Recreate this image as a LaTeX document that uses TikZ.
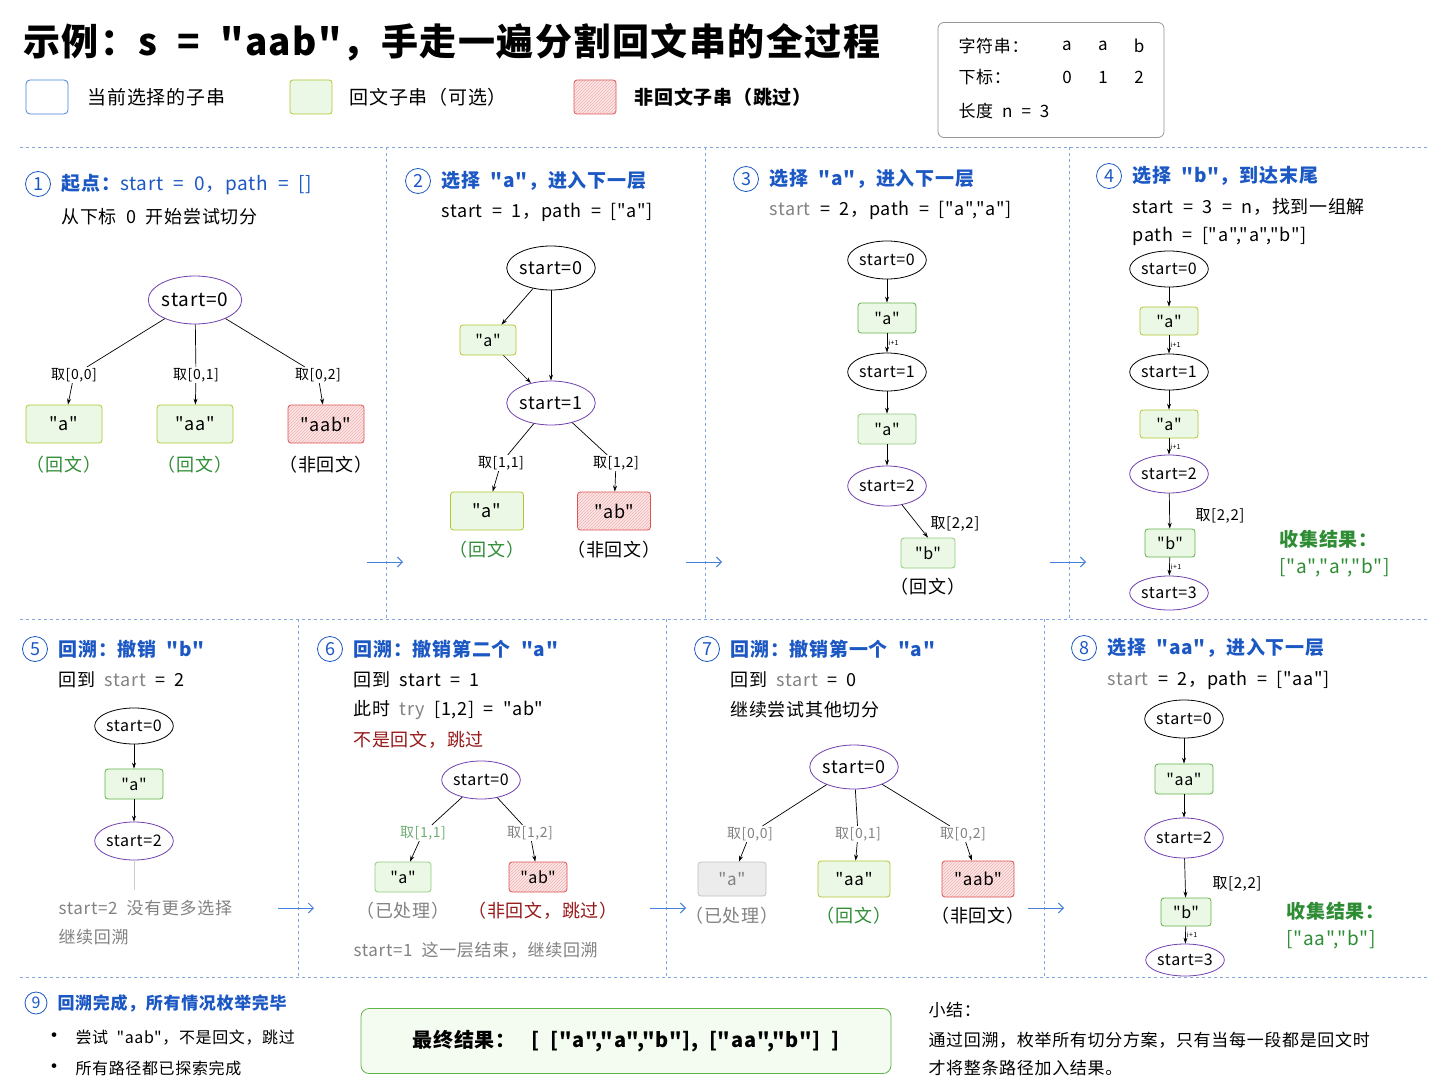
\documentclass[tikz,border=0pt]{standalone}
\usepackage{fontspec}
\setmainfont{Noto Sans CJK SC}[Ligatures=TeXOff,WordSpace=2,LetterSpace=4]
\usetikzlibrary{shapes.geometric,arrows.meta,patterns,positioning}
\definecolor{stepblue}{RGB}{28,88,196}
\definecolor{linkblue}{RGB}{70,130,220}
\definecolor{grape}{RGB}{112,64,176}
\definecolor{leaf}{RGB}{96,180,72}
\definecolor{leaffill}{RGB}{236,248,230}
\definecolor{lime}{RGB}{176,200,48}
\definecolor{coral}{RGB}{222,84,84}
\definecolor{coralfill}{RGB}{253,232,232}
\definecolor{forest}{RGB}{46,140,52}
\definecolor{maroon}{RGB}{150,24,24}
\definecolor{ash}{RGB}{130,130,130}
\definecolor{ashfill}{RGB}{236,236,236}
\definecolor{frame}{RGB}{150,150,150}
\definecolor{divider}{RGB}{130,165,220}
\newcommand{\fsz}[1]{\fontsize{#1}{#1}\selectfont}
\tikzset{state/.style={ellipse,draw=grape,thick,fill=white,inner sep=0pt,font=\fsz{16}}}
\tikzset{palbox/.style={rectangle,rounded corners=3pt,draw=leaf,thick,fill=leaffill,inner sep=0pt,font=\fsz{16}}}
\tikzset{limebox/.style={palbox,draw=lime}}
\tikzset{nonpalbox/.style={rectangle,rounded corners=3pt,draw=coral,thick,preaction={fill=coralfill},pattern=north east lines,pattern color=coral!45,inner sep=0pt,font=\fsz{16}}}
\tikzset{donebox/.style={palbox,draw=ash!50,fill=ashfill,text=ash}}
\tikzset{cut/.style={font=\fsz{14},fill=white,inner sep=1pt}}
\tikzset{tiny/.style={font=\fsz{7},inner sep=1pt}}
\tikzset{link/.style={-{Stealth[length=6pt,width=4pt]},line width=0.7pt}}
\tikzset{stepnum/.style={circle,draw=stepblue,thick,text=stepblue,inner sep=0pt,minimum size=25pt,font=\fsz{18}}}
\tikzset{steptitle/.style={anchor=west,text=stepblue,font=\bfseries\fsz{19}}}
\tikzset{note/.style={anchor=west,font=\fsz{18}}}
\tikzset{sep/.style={divider,dashed,line width=0.7pt}}
\tikzset{hop/.style={-{Straight Barb[length=5pt]},linkblue,line width=1pt}}
\begin{document}
\begin{tikzpicture}[x=1pt,y=-1pt]
\useasboundingbox[fill=white] (0,0) rectangle (1448,1086);
% header
\node[anchor=west,font=\bfseries\fsz{37}] (title) at (20,42) {示例：s = "aab"，手走一遍分割回文串的全过程};
\node[draw=linkblue,thick,rounded corners=4pt,minimum width=42pt,minimum height=34pt] (lgcur) at (47,97) {};
\node[anchor=west,font=\fsz{19}] (lgcurt) at (84,97) {当前选择的子串};
\node[limebox,minimum width=42pt,minimum height=34pt] (lgpal) at (311,97) {};
\node[anchor=west,font=\fsz{19}] (lgpalt) at (346,97) {回文子串（可选）};
\node[nonpalbox,minimum width=42pt,minimum height=34pt] (lgnon) at (595,97) {};
\node[anchor=west,font=\bfseries\fsz{19}] (lgnont) at (631,97) {非回文子串（跳过）};
\node[draw=frame,thick,rounded corners=6pt,minimum width=226pt,minimum height=115pt] (info) at (1051,80) {};
\node[anchor=west,font=\fsz{17}] (infos) at (955,46) {字符串：};
\node[anchor=west,font=\fsz{17}] (infoi) at (955,77) {下标：};
\node[anchor=west,font=\fsz{17}] (infon) at (955,111) {长度 n = 3};
\foreach \c/\d [count=\k] in {a/0,a/1,b/2} {
  \node[font=\fsz{17}] (chr\k) at (1031+36*\k,46) {\c};
  \node[font=\fsz{17}] (idx\k) at (1031+36*\k,77) {\d};
}
% dividers
\draw[sep] (20,147) -- (1428,147);
\draw[sep] (20,619) -- (1428,619);
\draw[sep] (20,977) -- (1428,977);
\foreach \x in {386,705,1069} \draw[sep] (\x,147) -- (\x,619);
\foreach \x in {298,666,1044} \draw[sep] (\x,619) -- (\x,977);
\foreach \x/\y [count=\k] in {367/562,686/562,1050/562,278/908,650/908,1028/908} {
  \coordinate (hop\k) at (\x,\y);
  \draw[hop] (hop\k) -- ++(36,0);
}
% step 1
\node[stepnum] (n1) at (38,184) {1};
\node[steptitle] (t1) at (58,185) {起点：\mdseries start = 0，path = []};
\node[note] (d1) at (58,217) {从下标 0 开始尝试切分};
\node[state,minimum width=92pt,minimum height=48pt,font=\fsz{19}] (p1s0) at (195,300) {start=0};
\node[limebox,minimum width=76pt,minimum height=38pt,font=\fsz{18}] (p1a) at (64,424) {"a"};
\node[limebox,minimum width=76pt,minimum height=38pt,font=\fsz{18}] (p1aa) at (195,424) {"aa"};
\node[nonpalbox,minimum width=76pt,minimum height=38pt,font=\fsz{18}] (p1aab) at (326,424) {"aab"};
\node[cut] (p1c1) at (74,375) {取[0,0]};
\node[cut] (p1c2) at (196,375) {取[0,1]};
\node[cut] (p1c3) at (318,375) {取[0,2]};
\foreach \c/\b in {p1c1/p1a,p1c2/p1aa,p1c3/p1aab} {
  \draw[line width=0.7pt] (p1s0) -- (\c);
  \draw[link] (\c) -- (\b);
}
\node[text=forest,font=\fsz{18}] (p1la) at (64,465) {（回文）};
\node[text=forest,font=\fsz{18}] (p1laa) at (195,465) {（回文）};
\node[font=\fsz{18}] (p1laab) at (326,465) {（非回文）};
% step 2
\node[stepnum] (n2) at (418,181) {2};
\node[steptitle] (t2) at (438,181) {选择 "a"，进入下一层};
\node[note] (d2) at (438,212) {start = 1，path = ["a"]};
\node[state,draw=black,minimum width=80pt,minimum height=44pt,font=\fsz{18}] (p2s0) at (551,268) {start=0};
\node[limebox,minimum width=56pt,minimum height=30pt] (p2a) at (488,340) {"a"};
\node[state,minimum width=88pt,minimum height=44pt,font=\fsz{18}] (p2s1) at (551,403) {start=1};
\draw[link] (p2s0) -- (p2a);
\draw[link] (p2a) -- (p2s1);
\draw[link] (p2s0) -- (p2s1);
\node[limebox,minimum width=73pt,minimum height=38pt,font=\fsz{18}] (p2a2) at (487,511) {"a"};
\node[nonpalbox,minimum width=73pt,minimum height=38pt,font=\fsz{18}] (p2ab) at (614,511) {"ab"};
\node[cut] (p2c1) at (501,463) {取[1,1]};
\node[cut] (p2c2) at (616,463) {取[1,2]};
\foreach \c/\b in {p2c1/p2a2,p2c2/p2ab} {
  \draw[line width=0.7pt] (p2s1) -- (\c);
  \draw[link] (\c) -- (\b);
}
\node[text=forest,font=\fsz{18}] (p2la) at (487,550) {（回文）};
\node[font=\fsz{18}] (p2lab) at (614,550) {（非回文）};
% step 3
\node[stepnum] (n3) at (746,179) {3};
\node[steptitle] (t3) at (766,179) {选择 "a"，进入下一层};
\node[note] (d3) at (766,210) {{\color{ash}start} = 2，path = ["a","a"]};
\node[state,draw=black,minimum width=66pt,minimum height=38pt] (p3s0) at (887,260) {start=0};
\node[palbox,minimum width=58pt,minimum height=30pt] (p3a) at (887,318) {"a"};
\node[state,draw=black,minimum width=68pt,minimum height=38pt] (p3s1) at (887,372) {start=1};
\node[palbox,draw=leaf!70,minimum width=58pt,minimum height=30pt] (p3a2) at (887,429) {"a"};
\node[state,minimum width=74pt,minimum height=40pt] (p3s2) at (887,486) {start=2};
\node[palbox,draw=leaf!70,minimum width=54pt,minimum height=30pt] (p3b) at (928,553) {"b"};
\draw[link] (p3s0) -- (p3a);
\draw[link] (p3a) -- node[tiny,right]{i+1} (p3s1);
\draw[link] (p3s1) -- (p3a2);
\draw[link] (p3a2) -- (p3s2);
\draw[link] (p3s2) -- (p3b.north);
\node[font=\fsz{15}] (p3c) at (955,524) {取[2,2]};
\node[font=\fsz{18}] (p3lb) at (928,587) {（回文）};
% step 4
\node[stepnum] (n4) at (1109,176) {4};
\node[steptitle] (t4) at (1129,176) {选择 "b"，到达末尾};
\node[note] (d4) at (1129,207) {start = 3 = n，找到一组解};
\node[note] (e4) at (1129,236) {path = ["a","a","b"]};
\node[state,draw=black,minimum width=64pt,minimum height=36pt] (p4s0) at (1169,269) {start=0};
\node[limebox,minimum width=58pt,minimum height=28pt] (p4a) at (1169,321) {"a"};
\node[state,draw=black,minimum width=68pt,minimum height=36pt] (p4s1) at (1169,372) {start=1};
\node[limebox,minimum width=58pt,minimum height=28pt] (p4a2) at (1169,424) {"a"};
\node[state,minimum width=72pt,minimum height=38pt] (p4s2) at (1169,474) {start=2};
\node[palbox,minimum width=50pt,minimum height=28pt] (p4b) at (1170,543) {"b"};
\node[state,minimum width=68pt,minimum height=34pt] (p4s3) at (1169,593) {start=3};
\draw[link] (p4s0) -- (p4a);
\draw[link] (p4a) -- node[tiny,right]{i+1} (p4s1);
\draw[link] (p4s1) -- (p4a2);
\draw[link] (p4a2) -- node[tiny,right]{i+1} (p4s2);
\draw[link] (p4s2) -- (p4b);
\draw[link] (p4b) -- node[tiny,right]{i+1} (p4s3);
\node[font=\fsz{15}] (p4c) at (1220,516) {取[2,2]};
\node[anchor=west,text=forest,font=\bfseries\fsz{19}] (r4a) at (1276,539) {收集结果：};
\node[anchor=west,text=forest,font=\fsz{19}] (r4b) at (1276,568) {["a","a","b"]};
% step 5
\node[stepnum] (n5) at (35,649) {5};
\node[steptitle] (t5) at (55,649) {回溯：撤销 "b"};
\node[note] (d5) at (55,680) {回到 {\color{ash}start} = 2};
\node[state,draw=black,minimum width=64pt,minimum height=36pt] (p5s0) at (134,726) {start=0};
\node[palbox,minimum width=58pt,minimum height=30pt] (p5a) at (134,784) {"a"};
\node[state,minimum width=76pt,minimum height=38pt] (p5s2) at (134,841) {start=2};
\coordinate (p5end) at (134,890);
\draw[link] (p5s0) -- (p5a);
\draw[link] (p5a) -- (p5s2);
\draw[ash!40,line width=0.7pt] (p5s2) -- (p5end);
\node[anchor=west,text=ash,font=\fsz{17}] (e5a) at (55,908) {start=2 没有更多选择};
\node[anchor=west,text=ash,font=\fsz{17}] (e5b) at (55,937) {继续回溯};
% step 6
\node[stepnum] (n6) at (330,649) {6};
\node[steptitle] (t6) at (350,649) {回溯：撤销第二个 "a"};
\node[note] (d6) at (350,680) {回到 start = 1};
\node[note] (e6) at (350,710) {此时 {\color{ash}try} [1,2] = "ab"};
\node[note,text=maroon] (f6) at (350,740) {不是回文，跳过};
\node[state,minimum width=68pt,minimum height=38pt] (p6s0) at (481,780) {start=0};
\node[palbox,draw=leaf!70,minimum width=56pt,minimum height=30pt] (p6a) at (403,877) {"a"};
\node[nonpalbox,minimum width=58pt,minimum height=30pt] (p6ab) at (538,877) {"ab"};
\node[cut,text=forest!70] (p6c1) at (423,833) {取[1,1]};
\node[cut,text=ash] (p6c2) at (530,833) {取[1,2]};
\foreach \c/\b in {p6c1/p6a,p6c2/p6ab} {
  \draw[line width=0.7pt] (p6s0) -- (\c);
  \draw[link] (\c) -- (\b);
}
\node[text=ash,font=\fsz{18}] (p6la) at (403,911) {（已处理）};
\node[text=maroon,font=\fsz{18}] (p6lab) at (543,911) {（非回文，跳过）};
\node[anchor=west,text=ash,font=\fsz{17}] (g6) at (350,950) {start=1 这一层结束，继续回溯};
% step 7
\node[stepnum] (n7) at (707,649) {7};
\node[steptitle] (t7) at (727,649) {回溯：撤销第一个 "a"};
\node[note] (d7) at (727,680) {回到 {\color{ash}start} = 0};
\node[note] (e7) at (727,710) {继续尝试其他切分};
\node[state,minimum width=80pt,minimum height=44pt,font=\fsz{18}] (p7s0) at (854,767) {start=0};
\node[donebox,minimum width=68pt,minimum height=34pt,font=\fsz{17}] (p7a) at (732,879) {"a"};
\node[limebox,minimum width=72pt,minimum height=36pt,font=\fsz{17}] (p7aa) at (854,879) {"aa"};
\node[nonpalbox,minimum width=72pt,minimum height=36pt,font=\fsz{17}] (p7aab) at (978,879) {"aab"};
\node[cut,text=ash] (p7c1) at (750,834) {取[0,0]};
\node[cut,text=ash] (p7c2) at (858,834) {取[0,1]};
\node[cut,text=ash] (p7c3) at (963,834) {取[0,2]};
\foreach \c/\b in {p7c1/p7a,p7c2/p7aa,p7c3/p7aab} {
  \draw[line width=0.7pt] (p7s0) -- (\c);
  \draw[link] (\c) -- (\b);
}
\node[text=ash,font=\fsz{18}] (p7la) at (732,916) {（已处理）};
\node[text=forest,font=\fsz{18}] (p7laa) at (854,916) {（回文）};
\node[font=\fsz{18}] (p7laab) at (978,916) {（非回文）};
% step 8
\node[stepnum] (n8) at (1084,648) {8};
\node[steptitle] (t8) at (1104,648) {选择 "aa"，进入下一层};
\node[note] (d8) at (1104,680) {{\color{ash}start} = 2，path = ["aa"]};
\node[state,draw=black,minimum width=68pt,minimum height=38pt] (p8s0) at (1184,719) {start=0};
\node[palbox,minimum width=58pt,minimum height=30pt] (p8aa) at (1184,779) {"aa"};
\node[state,minimum width=78pt,minimum height=40pt] (p8s2) at (1184,838) {start=2};
\node[palbox,minimum width=50pt,minimum height=28pt] (p8b) at (1186,912) {"b"};
\node[state,minimum width=64pt,minimum height=32pt] (p8s3) at (1185,960) {start=3};
\draw[link] (p8s0) -- (p8aa);
\draw[link] (p8aa) -- (p8s2);
\draw[link] (p8s2) -- (p8b);
\draw[link] (p8b) -- node[tiny,right]{i+1} (p8s3);
\node[font=\fsz{15}] (p8c) at (1237,884) {取[2,2]};
\node[anchor=west,text=forest,font=\bfseries\fsz{19}] (r8a) at (1283,911) {收集结果：};
\node[anchor=west,text=forest,font=\fsz{19}] (r8b) at (1283,940) {["aa","b"]};
% step 9 and summary
\node[stepnum,minimum size=22pt,font=\fsz{16}] (n9) at (36,1003) {9};
\node[steptitle,font=\bfseries\fsz{17}] (t9) at (54,1003) {回溯完成，所有情况枚举完毕};
\node[anchor=west,font=\fsz{16}] (b9a) at (40,1038) {{\fsz{22}\textbullet}\hspace{10pt}尝试 "aab"，不是回文，跳过};
\node[anchor=west,font=\fsz{16}] (b9b) at (40,1068) {{\fsz{22}\textbullet}\hspace{10pt}所有路径都已探索完成};
\node[rounded corners=8pt,draw=leaf,thick,fill=leaffill!60,minimum width=530pt,minimum height=65pt,font=\bfseries\fsz{20}] (final) at (626,1041) {最终结果：\hspace{16pt}[ ["a","a","b"], ["aa","b"] ]};
\node[anchor=west,font=\fsz{17}] (sum) at (925,1010) {小结：};
\node[anchor=west,font=\fsz{17}] (suma) at (925,1040) {通过回溯，枚举所有切分方案，只有当每一段都是回文时};
\node[anchor=west,font=\fsz{17}] (sumb) at (925,1068) {才将整条路径加入结果。};
\end{tikzpicture}
\end{document}
